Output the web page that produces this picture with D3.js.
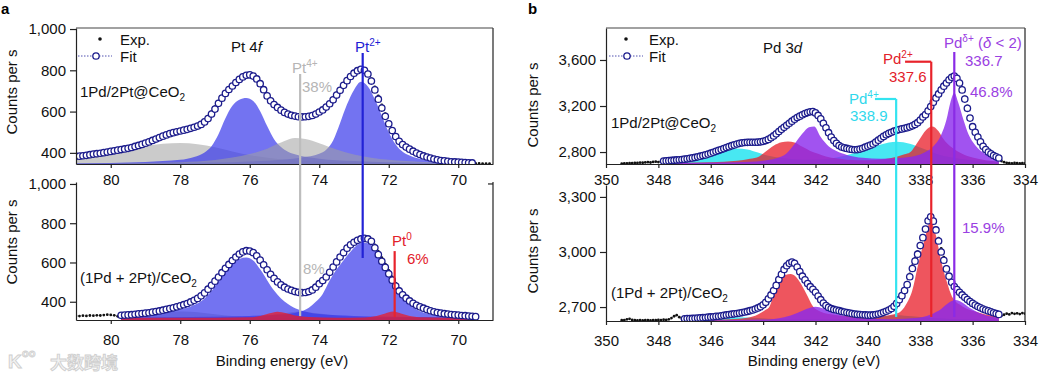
<!DOCTYPE html>
<html>
<head>
<meta charset="utf-8">
<script src="https://cdn.jsdelivr.net/npm/d3@7"></script>
<style>
body { margin: 0; background: #fff; }
svg { display: block; font-family: "Liberation Sans", Arial, sans-serif; }
</style>
</head>
<body>
<svg id="chart" width="1039" height="373"></svg>
<script>

// ---- panel a : Pt 4f ----
var ptTicksX = [80, 78, 76, 74, 72, 70];
var ptTicksY = [400, 600, 800, 1000];

var ptTopFitStart = 81.0;
var ptTopFit = [
	383,384,386,388,391,394,396,398,401,404,
	407,410,413,416,419,422,426,431,436,441,
	447,453,460,467,474,481,487,493,498,502,
	506,510,514,519,524,530,538,550,566,588,
	612,640,665,688,707,724,741,756,768,776,
	778,772,758,735,706,676,652,634,620,607,
	596,588,582,578,575,574,575,577,581,588,
	598,608,622,638,657,680,703,727,750,770,
	786,798,805,800,782,748,705,660,617,577,
	541,508,479,456,440,428,418,408,399,392,
	385,380,375,370,366,363,361,359,357,356,
	355,354,353,352,351];
var ptTopExpStart = 81.0;
var ptTopExp = [
	374,376,378,379,381,383,385,388,392,396,
	401,405,410,414,418,421,425,430,435,441,
	446,452,459,466,474,482,488,494,499,503,
	507,511,515,521,528,536,546,560,578,600,
	624,650,673,694,712,728,744,758,769,777,
	776,768,752,728,698,670,647,630,616,603,
	591,582,575,570,567,566,567,570,575,584,
	596,610,626,645,666,690,714,738,760,779,
	793,802,804,797,787,760,720,676,632,590,
	551,515,483,458,438,424,413,403,395,388,
	382,377,372,368,364,361,359,357,355,354,
	353,352,351,350,350,349,349,348,348,348];

var ptTopGray1 = [[81.0,378],[80.5,390],[80.0,403],[79.5,418],[79.0,433],[78.5,444],[78.0,448],[77.5,442],[77.0,427],[76.5,407],[76.0,389],[75.5,376],[75.0,367],[74.5,361],[74.0,357],[73.0,352],[72.0,350],[71.0,348],[69.6,347]];
var ptTopGray2 = [[81.0,348],[79.0,351],[78.0,355],[77.5,358],[77.0,365],[76.5,377],[76.0,394],[75.5,420],[75.2,444],[75.0,458],[74.7,472],[74.4,467],[74.0,447],[73.5,416],[73.0,392],[72.5,376],[72.0,366],[71.0,356],[70.0,351],[69.6,350]];
var ptTopBlue1 = [[81.0,349],[79.0,356],[78.0,366],[77.6,380],[77.3,402],[77.1,432],[76.9,490],[76.7,568],[76.5,628],[76.3,657],[76.1,666],[75.9,651],[75.7,602],[75.5,530],[75.3,466],[75.1,428],[74.9,405],[74.6,388],[74.0,372],[73.0,360],[72.0,354],[71.0,351],[69.6,349]];
var ptTopBlue2 = [[81.0,348],[77.0,353],[76.0,358],[75.0,368],[74.5,378],[74.0,396],[73.8,415],[73.6,460],[73.4,545],[73.2,635],[73.0,705],[72.8,745],[72.6,722],[72.4,660],[72.2,580],[72.0,500],[71.8,440],[71.6,405],[71.4,387],[71.0,367],[70.5,358],[70.0,353],[69.6,351]];

var ptBotFitStart = 79.7;
var ptBotFit = [
	331,332,333,334,336,338,340,
	342,344,347,350,353,357,361,365,369,374,
	379,385,391,399,407,417,430,445,464,484,
	505,526,548,570,590,610,628,643,654,660,
	658,650,634,612,588,563,540,519,501,486,
	474,465,458,452,448,446,447,452,460,474,
	492,508,526,550,577,603,628,650,673,690,
	703,713,720,723,720,708,675,640,606,575,
	542,510,480,455,435,418,404,392,382,374,
	367,360,354,349,345,342,339,337,335,333,
	332,330,329,327,326,324];
var ptBotExpStart = 81.0;
var ptBotExp = [
	328,327,329,328,330,329,331,330,332,334,
	333,331,326,322,330,332,334,336,338,340,
	342,344,346,349,352,356,360,364,368,373,
	378,383,389,396,404,414,427,442,460,481,
	502,523,545,567,588,608,627,642,653,659,
	659,654,641,621,598,574,551,529,509,492,
	478,468,460,455,452,452,455,459,466,477,
	490,505,522,545,572,598,624,647,670,688,
	702,714,722,727,727,718,690,657,624,592,
	560,527,495,468,446,428,413,400,389,380,
	372,364,357,351,346,342,339,337,335,333,
	331,330,329,327,326,325];

var ptBotGray1 = [[79.7,318],[79.2,325],[78.7,338],[78.2,348],[77.9,350],[77.5,346],[77.0,336],[76.5,327],[76.0,322],[75.0,319],[73.0,318],[69.5,317]];
var ptBotGray2 = [[79.7,317],[77.0,319],[76.0,323],[75.5,330],[75.1,340],[74.8,347],[74.55,350],[74.3,347],[74.0,340],[73.5,330],[73.0,324],[72.0,320],[69.5,318]];
var ptBotBlue1 = [[79.7,322],[79.2,327],[78.8,334],[78.4,345],[78.0,360],[77.7,376],[77.4,402],[77.1,455],[76.8,530],[76.5,595],[76.3,618],[76.1,625],[75.9,610],[75.7,565],[75.5,510],[75.3,457],[75.1,417],[74.9,388],[74.6,360],[74.3,345],[74.0,337],[73.0,328],[72.0,324],[71.0,322],[69.5,320]];
var ptBotBlue2 = [[79.7,320],[77.0,324],[76.0,328],[75.0,336],[74.6,348],[74.3,370],[74.1,400],[73.9,440],[73.7,508],[73.5,565],[73.3,612],[73.1,655],[72.9,690],[72.75,702],[72.6,698],[72.4,665],[72.2,605],[72.0,535],[71.8,468],[71.6,420],[71.4,385],[71.2,360],[71.0,345],[70.7,333],[70.3,326],[69.5,322]];
var ptBotRed = [[79.7,318],[77.0,319],[76.0,321],[75.7,328],[75.45,340],[75.2,349],[74.95,341],[74.7,330],[74.3,322],[73.5,319],[72.7,320],[72.35,327],[72.1,340],[71.88,350],[71.65,340],[71.4,328],[71.0,321],[70.3,319],[69.5,318]];

// ---- panel b : Pd 3d ----
var pdTicksX = [350, 348, 346, 344, 342, 340, 338, 336, 334];
var pdTopTicksY = [2800, 3200, 3600];
var pdBotTicksY = [2700, 3000, 3300];

var pdTopFitStart = 347.8;
var pdTopFit = [
	2722,2723,2725,2727,2729,2731,2733,2735,2738,2741,
	2745,2749,2753,2758,2764,2770,2775,2782,2790,2798,
	2806,2814,2822,2830,2839,2847,2855,2862,2870,2876,
	2880,2883,2884,2885,2885,2885,2886,2889,2893,2900,
	2910,2924,2940,2958,2978,2997,3015,3033,3050,3068,
	3085,3100,3112,3124,3135,3143,3150,3152,3140,3118,
	3088,3050,3010,2968,2930,2900,2875,2856,2843,2837,
	2831,2826,2822,2820,2821,2826,2833,2842,2851,2860,
	2870,2886,2903,2920,2936,2950,2962,2972,2981,2989,
	2996,3001,3006,3012,3019,3028,3040,3055,3078,3105,
	3125,3158,3195,3233,3270,3305,3340,3372,3400,3428,
	3450,3460,3440,3400,3340,3260,3180,3095,3020,2972,
	2930,2888,2850,2822,2800,2784,2770,2758,2748];
var pdTopExpStart = 349.4;
var pdTopExp = [
	2700,2702,2701,2704,2703,2706,2705,2708,2707,2710,2712,2709,2714,2716,2713,2718,
	2718,2722,2720,2726,2730,2728,2735,2733,2740,2738,
	2746,2747,2755,2756,2765,2768,2777,2780,2792,2796,
	2808,2812,2824,2828,2841,2845,2857,2860,2872,2874,
	2882,2881,2886,2883,2887,2883,2888,2887,2895,2898,
	2912,2922,2944,2956,2983,2995,3020,3031,3055,3066,
	3090,3098,3116,3122,3138,3141,3152,3150,3142,3115,
	3090,3046,3012,2964,2932,2896,2877,2852,2845,2833,
	2833,2822,2824,2816,2823,2822,2835,2838,2853,2856,
	2872,2882,2905,2916,2938,2946,2964,2968,2983,2986,
	2998,2998,3008,3010,3021,3026,3042,3052,3080,3102,
	3128,3152,3198,3228,3273,3300,3343,3368,3403,3424,
	3453,3458,3446,3412,3358,3280,3200,3110,3030,2978,
	2935,2886,2848,2818,2796,2780,2764,2752,2740,
	2722,2712,2706,2704,2702,2705,2703,2701,2704,2702];

var pdTopCyan = [[347.8,2712],[347.0,2728],[346.5,2745],[346.0,2772],[345.5,2805],[345.0,2830],[344.6,2822],[344.2,2795],[343.8,2768],[343.2,2745],[342.5,2732],[341.8,2735],[341.2,2752],[340.6,2785],[340.0,2828],[339.5,2866],[338.9,2890],[338.4,2872],[337.9,2830],[337.4,2786],[336.8,2752],[336.2,2733],[335.5,2722],[335.0,2718]];
var pdTopRed = [[347.8,2705],[346.0,2712],[345.0,2725],[344.5,2742],[344.15,2762],[343.9,2805],[343.6,2855],[343.3,2885],[343.05,2892],[342.8,2882],[342.5,2845],[342.2,2810],[341.9,2785],[341.6,2762],[341.2,2745],[340.8,2733],[340.0,2728],[339.4,2738],[338.9,2760],[338.6,2780],[338.4,2795],[338.2,2850],[338.0,2920],[337.8,2985],[337.55,3022],[337.3,2980],[337.15,2925],[336.95,2870],[336.76,2834],[336.4,2785],[336.0,2752],[335.5,2728],[335.0,2715]];
var pdTopPurple = [[347.8,2705],[345.0,2712],[344.0,2725],[343.5,2745],[343.1,2790],[342.8,2870],[342.5,2960],[342.25,3015],[342.05,3022],[341.8,2930],[341.5,2850],[341.2,2808],[340.8,2775],[340.2,2750],[339.5,2742],[338.8,2748],[338.2,2765],[337.8,2800],[337.5,2850],[337.2,2950],[337.0,3080],[336.85,3230],[336.7,3315],[336.55,3230],[336.35,3080],[336.15,2950],[335.9,2860],[335.6,2795],[335.3,2755],[335.0,2730]];

var pdBotFitStart = 347.0;
var pdBotFit = [
	2636,2637,2637,2638,2639,2640,2641,2642,2643,2645,
	2646,2647,2649,2650,2652,2655,2657,2659,2661,2663,
	2665,2667,2670,2673,2676,2680,2684,2689,2695,2702,
	2712,2726,2745,2766,2790,2818,2850,2878,2905,2925,
	2938,2945,2938,2918,2893,2868,2848,2828,2811,2797,
	2780,2760,2740,2722,2708,2698,2692,2687,2684,2680,
	2676,2673,2670,2667,2664,2662,2660,2659,2658,2657,
	2656,2656,2657,2659,2662,2666,2671,2677,2684,2692,
	2704,2720,2740,2762,2790,2822,2865,2910,2950,2988,
	3035,3078,3125,3170,3192,3168,3120,3060,3000,2955,
	2908,2868,2835,2812,2795,2780,2766,2753,2741,2730,
	2720,2711,2703,2696,2689,2684,2679,2674,2669,2665,
	2660];
var pdBotExpStart = 349.4;
var pdBotExp = [
	2628,2629,2633,2636,2630,2628,2627,2628,2627,2629,2628,2627,
	2629,2628,2630,2629,2631,2630,2633,2640,2650,2656,2645,2636,
	2634,2636,2638,2637,2640,2639,2642,2641,2644,2644,
	2647,2646,2650,2651,2653,2654,2658,2660,2660,2664,
	2668,2666,2672,2674,2682,2692,2694,2693,2697,2703,
	2714,2730,2752,2776,2803,2833,2864,2890,2915,2932,
	2943,2946,2934,2910,2880,2858,2840,2820,2804,2790,
	2772,2752,2733,2716,2702,2693,2686,2682,2679,2676,
	2672,2669,2666,2664,2660,2660,2656,2657,2655,2655,
	2654,2655,2655,2658,2660,2665,2670,2676,2684,2694,
	2708,2726,2748,2772,2802,2836,2880,2925,2965,3002,
	3048,3090,3136,3176,3194,3175,3132,3076,3020,2972,
	2922,2878,2842,2818,2800,2782,2768,2754,2742,2731,
	2720,2712,2704,2697,2690,2684,2679,2674,2670,2665,
	2660,2652,2658,2664,2660,2667,2663,2666,2662,2667,
	2664];

var pdBotCyan = [[347.0,2628],[346.0,2634],[345.0,2645],[344.2,2640],[343.0,2632],[341.5,2632],[340.2,2640],[339.5,2650],[338.9,2656],[338.3,2650],[337.5,2640],[336.5,2634],[335.0,2630]];
var pdBotRed = [[347.0,2628],[345.5,2632],[344.6,2642],[344.2,2660],[343.9,2685],[343.76,2702],[343.55,2790],[343.38,2847],[343.15,2874],[342.95,2880],[342.75,2865],[342.55,2825],[342.36,2775],[342.1,2705],[341.8,2675],[341.3,2658],[340.5,2648],[339.8,2645],[339.2,2655],[338.8,2670],[338.55,2712],[338.3,2793],[338.1,2920],[337.85,3060],[337.6,3168],[337.4,3090],[337.2,2950],[337.0,2845],[336.76,2750],[336.4,2705],[336.0,2680],[335.5,2660],[335.0,2648]];
var pdBotPurple = [[347.0,2626],[344.0,2632],[343.2,2645],[342.7,2668],[342.35,2690],[342.0,2702],[341.7,2692],[341.3,2668],[340.8,2648],[340.0,2636],[339.0,2634],[338.2,2640],[337.6,2660],[337.2,2690],[336.9,2725],[336.65,2738],[336.4,2725],[336.1,2695],[335.7,2665],[335.3,2648],[335.0,2640]];


var svg = d3.select("#chart");
var axisColor = "#222";
var fitColor = "#1c1c8c";

var colors = {
	gray: "rgb(160,160,160)",
	blue: "rgb(55,55,235)",
	red: "rgb(232,28,40)",
	cyan: "rgb(40,228,240)",
	purple: "rgb(138,40,236)"
};
var opac = { gray: 0.55, blue: 0.7, red: 0.75, cyan: 0.85, purple: 0.8 };

// grid of binding energies for the 0.1 eV spectra
function grid(start, values)
{
	return values.map(function(v, i)
	{
		return [+(start - i * 0.1).toFixed(1), v];
	});
}

var clipId = 0;

function drawPanel(p)
{
	var g = svg.append("g");
	var id = "clip" + (clipId++);
	svg.append("clipPath").attr("id", id)
		.append("rect")
		.attr("x", p.x.range()[0])
		.attr("y", p.y.range()[1])
		.attr("width", p.x.range()[1] - p.x.range()[0])
		.attr("height", p.y.range()[0] - p.y.range()[1]);

	var plot = g.append("g").attr("clip-path", "url(#" + id + ")");

	var area = d3.area()
		.x(function(d) { return p.x(d[0]); })
		.y0(p.y.range()[0])
		.y1(function(d) { return p.y(d[1]); })
		.curve(d3.curveMonotoneX);

	p.comps.forEach(function(c)
	{
		plot.append("path")
			.datum(c.pts)
			.attr("d", area)
			.style("fill", colors[c.col])
			.style("fill-opacity", opac[c.col]);
	});

	plot.selectAll("circle.exp")
		.data(p.exp)
		.enter()
		.append("circle")
		.attr("class", "exp")
		.attr("cx", function(d) { return p.x(d[0]); })
		.attr("cy", function(d) { return p.y(d[1]); })
		.attr("r", 1.4)
		.style("fill", "#111");

	plot.selectAll("circle.fit")
		.data(p.fit)
		.enter()
		.append("circle")
		.attr("class", "fit")
		.attr("cx", function(d) { return p.x(d[0]); })
		.attr("cy", function(d) { return p.y(d[1]); })
		.attr("r", 3.2)
		.style("fill", "white")
		.style("stroke", fitColor)
		.style("stroke-width", 1.3);

	// axes
	var yAxis = g.append("g")
		.attr("transform", "translate(" + p.x.range()[0] + ",0)")
		.call(d3.axisLeft(p.y).tickValues(p.yTicks).tickFormat(d3.format(",")).tickSize(6).tickSizeOuter(0).tickPadding(4));
	var xAxis = g.append("g")
		.attr("transform", "translate(0," + p.y.range()[0] + ")")
		.call(d3.axisBottom(p.x).tickValues(p.xTicks).tickSize(4).tickSizeOuter(0).tickPadding(p.xPad));

	[yAxis, xAxis].forEach(function(a)
	{
		a.selectAll("path, line").style("stroke", axisColor).style("stroke-width", 1.2);
		a.selectAll("text").style("font-size", "15px").style("fill", "#111").style("font-family", "Liberation Sans, Arial, sans-serif");
	});

	// right line, and top line for the upper panels
	g.append("line")
		.attr("x1", p.x.range()[1]).attr("x2", p.x.range()[1])
		.attr("y1", p.y.range()[1]).attr("y2", p.y.range()[0])
		.style("stroke", axisColor).style("stroke-width", 1.2);
	if (p.top)
	{
		g.append("line")
			.attr("x1", p.x.range()[0]).attr("x2", p.x.range()[1])
			.attr("y1", p.y.range()[1]).attr("y2", p.y.range()[1])
			.style("stroke", "#444").style("stroke-width", 1.2);
	}
	return g;
}

// scales
var xPt = d3.scaleLinear().domain([81, 69]).range([76, 493]);
var yPtTop = d3.scaleLinear().domain([346, 1005]).range([164, 28]);
var yPtBot = d3.scaleLinear().domain([307, 1010]).range([320, 182]);
var xPd = d3.scaleLinear().domain([350, 334]).range([606, 1025]);
var yPdTop = d3.scaleLinear().domain([2696, 3878]).range([164, 28]);
var yPdBot = d3.scaleLinear().domain([2624, 3365]).range([321, 185]);

drawPanel({
	x: xPt, y: yPtTop, xTicks: ptTicksX, yTicks: ptTicksY, xPad: 6, top: true,
	fit: grid(ptTopFitStart, ptTopFit), exp: grid(ptTopExpStart, ptTopExp),
	comps: [
		{ pts: ptTopGray1, col: "gray" },
		{ pts: ptTopBlue1, col: "blue" },
		{ pts: ptTopBlue2, col: "blue" },
		{ pts: ptTopGray2, col: "gray" }
	]
});
var ptBot = drawPanel({
	x: xPt, y: yPtBot, xTicks: ptTicksX, yTicks: ptTicksY, xPad: 10, top: false,
	fit: grid(ptBotFitStart, ptBotFit), exp: grid(ptBotExpStart, ptBotExp),
	comps: [
		{ pts: ptBotGray1, col: "gray" },
		{ pts: ptBotGray2, col: "gray" },
		{ pts: ptBotBlue1, col: "blue" },
		{ pts: ptBotBlue2, col: "blue" },
		{ pts: ptBotRed, col: "red" }
	]
});
// little inner tick on the right line
ptBot.append("line")
	.attr("x1", xPt.range()[1] - 5).attr("x2", xPt.range()[1])
	.attr("y1", yPtBot(1000)).attr("y2", yPtBot(1000))
	.style("stroke", axisColor).style("stroke-width", 1.2);

drawPanel({
	x: xPd, y: yPdTop, xTicks: pdTicksX, yTicks: pdTopTicksY, xPad: 6, top: true,
	fit: grid(pdTopFitStart, pdTopFit), exp: grid(pdTopExpStart, pdTopExp),
	comps: [
		{ pts: pdTopCyan, col: "cyan" },
		{ pts: pdTopRed, col: "red" },
		{ pts: pdTopPurple, col: "purple" }
	]
});
drawPanel({
	x: xPd, y: yPdBot, xTicks: pdTicksX, yTicks: pdBotTicksY, xPad: 10, top: false,
	fit: grid(pdBotFitStart, pdBotFit), exp: grid(pdBotExpStart, pdBotExp),
	comps: [
		{ pts: pdBotCyan, col: "cyan" },
		{ pts: pdBotRed, col: "red" },
		{ pts: pdBotPurple, col: "purple" }
	]
});

// ---- marker lines across both panels ----
function vline(x, y1, y2, color)
{
	svg.append("line")
		.attr("x1", x).attr("x2", x)
		.attr("y1", y1).attr("y2", y2)
		.style("stroke", color)
		.style("stroke-width", 2.2);
}
function hline(x1, x2, y, color)
{
	svg.append("line")
		.attr("x1", x1).attr("x2", x2)
		.attr("y1", y).attr("y2", y)
		.style("stroke", color)
		.style("stroke-width", 2.2);
}

vline(xPt(74.55), yPtTop(782), yPtBot(327), "#bdbdbd");
vline(xPt(72.75), yPtTop(884), yPtBot(623), "#2222d6");
vline(xPt(71.83), yPtBot(658), yPtBot(322), "#e8232b");

vline(xPd(336.7), yPdTop(3669), yPdBot(2646), "#8a2be6");
vline(xPd(337.58), yPdTop(3585), yPdBot(2646), "#e8232b");
hline(xPd(338.58), xPd(337.58), yPdTop(3585), "#e8232b");
vline(xPd(338.92), yPdTop(3261), yPdBot(2646), "#33e4f0");
hline(xPd(339.73), xPd(338.92), yPdTop(3261), "#33e4f0");

// ---- texts ----
function richText(x, y, parts, color, anchor)
{
	var t = svg.append("text")
		.attr("x", x)
		.attr("y", y)
		.attr("text-anchor", anchor || "start")
		.style("font-size", "15px")
		.style("fill", color);
	var shift = 0;
	parts.forEach(function(p)
	{
		var s = t.append("tspan").text(p[0]);
		var target = p[1] == "sup" ? -6 : (p[1] == "sub" ? 4 : 0);
		if (target != shift) s.attr("dy", target - shift);
		shift = target;
		if (p[1] == "sup" || p[1] == "sub") s.style("font-size", "10px");
		if (p[1] == "it") s.style("font-style", "italic");
	});
	return t;
}

var gray = "#b5b5b5", blue = "#1d1dd4", red = "#e2202a", purple = "#9a40e2", cyan = "#2fd8ec";

// panel letters
svg.append("text").attr("x", 1).attr("y", 14).text("a")
	.style("font-size", "15px").style("font-weight", "bold");
svg.append("text").attr("x", 528).attr("y", 14).text("b")
	.style("font-size", "15px").style("font-weight", "bold");

// y titles
[[17, 92], [17, 242], [538, 105], [538, 251]].forEach(function(d)
{
	svg.append("text")
		.attr("transform", "translate(" + d[0] + "," + d[1] + ") rotate(-90)")
		.attr("text-anchor", "middle")
		.style("font-size", "15px")
		.style("fill", "#111")
		.text("Counts per s");
});

// x titles
svg.append("text").attr("x", 282).attr("y", 366).attr("text-anchor", "middle")
	.style("font-size", "15px").style("fill", "#111").text("Binding energy (eV)");
svg.append("text").attr("x", 814).attr("y", 366).attr("text-anchor", "middle")
	.style("font-size", "15px").style("fill", "#111").text("Binding energy (eV)");

// legends
[[100, 78, 120], [626, 609, 649]].forEach(function(d)
{
	svg.append("circle").attr("cx", d[0]).attr("cy", 39).attr("r", 1.8).style("fill", "#111");
	svg.append("line").attr("x1", d[1]).attr("x2", d[1] + 34).attr("y1", 56).attr("y2", 56)
		.style("stroke", "#5050b0").style("stroke-width", 1).style("stroke-dasharray", "1.5,1.5");
	svg.append("circle").attr("cx", d[1] + 18).attr("cy", 56).attr("r", 3.2)
		.style("fill", "white").style("stroke", fitColor).style("stroke-width", 1.3);
	richText(d[2], 45, [["Exp."]], "#111");
	richText(d[2], 62, [["Fit"]], "#111");
});

// panel a labels
richText(231, 52, [["Pt 4"], ["f", "it"]], "#111");
richText(80, 97, [["1Pd/2Pt@CeO"], ["2", "sub"]], "#111");
richText(80, 283, [["(1Pd + 2Pt)/CeO"], ["2", "sub"]], "#111");
richText(355, 52, [["Pt"], ["2+", "sup"]], blue);
richText(292, 73, [["Pt"], ["4+", "sup"]], gray);
richText(302, 92, [["38%"]], gray);
richText(303, 274, [["8%"]], gray);
richText(392, 246, [["Pt"], ["0", "sup"]], red);
richText(407, 264, [["6%"]], red);

// panel b labels
richText(763, 53, [["Pd 3"], ["d", "it"]], "#111");
richText(611, 128, [["1Pd/2Pt@CeO"], ["2", "sub"]], "#111");
richText(611, 298, [["(1Pd + 2Pt)/CeO"], ["2", "sub"]], "#111");
richText(944, 48, [["Pd"], ["δ+", "sup"], [" ("], ["δ", "it"], [" < 2)"]], purple);
richText(965, 66, [["336.7"]], purple);
richText(970, 97, [["46.8%"]], purple);
richText(962, 233, [["15.9%"]], purple);
richText(883, 64, [["Pd"], ["2+", "sup"]], red);
richText(889, 82, [["337.6"]], red);
richText(849, 104, [["Pd"], ["4+", "sup"]], cyan);
richText(850, 121, [["338.9"]], cyan);

// watermark
svg.append("text").attr("x", 8).attr("y", 368).text("K")
	.style("font-size", "19px").style("font-weight", "bold")
	.style("fill", "#f3f3f3").style("stroke", "#cfcfcf").style("stroke-width", 0.9);
svg.append("text").attr("x", 22).attr("y", 357).text("oo")
	.style("font-size", "11px").style("font-weight", "bold")
	.style("fill", "#f3f3f3").style("stroke", "#cfcfcf").style("stroke-width", 0.8);
svg.append("text").attr("x", 50).attr("y", 369).text("大数跨境")
	.style("font-family", "Noto Sans CJK SC")
	.style("font-size", "17px").style("font-weight", "bold")
	.style("fill", "#f3f3f3").style("stroke", "#cfcfcf").style("stroke-width", 0.9);

</script>
</body>
</html>
